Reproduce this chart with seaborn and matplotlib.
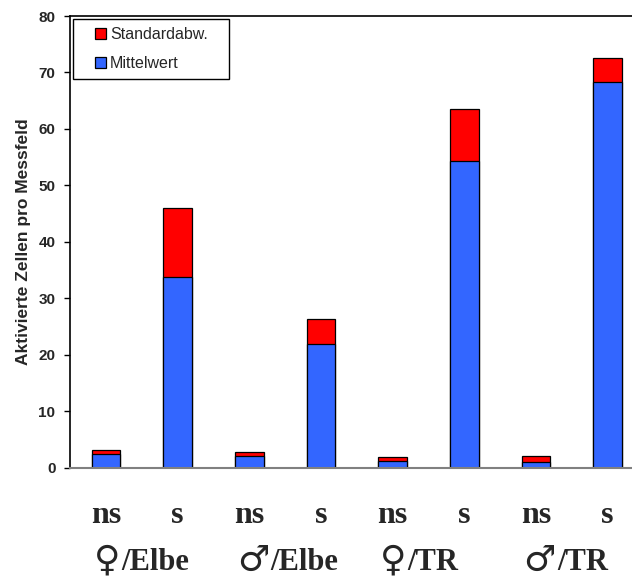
import numpy as np
import pandas as pd
import matplotlib
matplotlib.use("Agg")
import matplotlib.pyplot as plt
import matplotlib.transforms as mtransforms
from matplotlib.patches import Rectangle
from matplotlib.legend_handler import HandlerPatch
import seaborn as sns

# ---- data ----
categories = ["♀/Elbe ns", "♀/Elbe s", "♂/Elbe ns", "♂/Elbe s",
              "♀/TR ns", "♀/TR s", "♂/TR ns", "♂/TR s"]
sig_labels = ["ns", "s", "ns", "s", "ns", "s", "ns", "s"]
group_labels = ["♀/Elbe", "♂/Elbe", "♀/TR", "♂/TR"]
mittelwert = [2.5, 33.8, 2.1, 21.9, 1.2, 54.4, 0.95, 68.3]
standardabw = [0.7, 12.2, 0.7, 4.5, 0.7, 9.1, 1.05, 4.3]
y_ticks = [0, 10, 20, 30, 40, 50, 60, 70, 80]

df = pd.DataFrame({
    "cat": categories,
    "mean": mittelwert,
    "sd": standardabw,
})
df["total"] = df["mean"] + df["sd"]

sns.set_style("white")
plt.rcParams["font.family"] = ["Liberation Sans", "DejaVu Sans"]

W, H = 632, 577
fig = plt.figure(figsize=(W / 100, H / 100), dpi=100)
ax = fig.add_axes([70 / W, 1 - 467.7 / H, 1 - 70 / W, (467.7 - 16) / H])

sns.barplot(data=df, x="cat", y="total", order=categories, color="#FF0000",
            saturation=1, width=0.4, edgecolor="black", linewidth=0.9,
            label="Standardabw.", ax=ax)
sns.barplot(data=df, x="cat", y="mean", order=categories, color="#3366FF",
            saturation=1, width=0.4, edgecolor="black", linewidth=0.9,
            label="Mittelwert", ax=ax)

ax.set_xlim(-0.5, 7.34)
ax.set_ylim(0, 80)
ax.set_yticks(y_ticks)
ax.set_yticklabels([str(v) for v in y_ticks], fontweight="bold", fontsize=11)
ax.tick_params(axis="y", which="both", left=True, length=4.5, width=1,
               color="black", pad=6)
ax.tick_params(axis="x", length=0)
ax.set_xticks([])
ax.set_xlabel("")
ax.set_ylabel("Aktivierte Zellen pro Messfeld", fontweight="bold",
              fontsize=12.5, labelpad=5.5)

for side in ["left", "top"]:
    ax.spines[side].set_visible(True)
    ax.spines[side].set_color("black")
    ax.spines[side].set_linewidth(1.2)
ax.spines["right"].set_visible(False)
ax.spines["bottom"].set_color("#808080")
ax.spines["bottom"].set_linewidth(1.5)

# labels below axis
trans = mtransforms.blended_transform_factory(ax.transData, fig.transFigure)
serif = ["Liberation Serif", "DejaVu Serif"]
for i, lab in enumerate(sig_labels):
    ax.text(i, 1 - 523 / H, lab, transform=trans, ha="center", va="baseline",
            fontsize=23, fontweight="bold", family=serif, clip_on=False)

fig.canvas.draw()
renderer = fig.canvas.get_renderer()
base_y = 1 - 570.5 / H
for g, lab in enumerate(group_labels):
    symbol, site = lab[0], lab[1:]
    x0 = 2 * g - 0.2
    t_sym = ax.text(x0, base_y, symbol,
                    transform=mtransforms.offset_copy(trans, fig=fig, x=2, y=0, units="dots"),
                    ha="left", va="baseline", fontsize=26,
                    family=["DejaVu Sans"], clip_on=False)
    w = t_sym.get_window_extent(renderer).width
    ax.text(x0, base_y, site,
            transform=mtransforms.offset_copy(trans, fig=fig, x=2 + w + 1, y=0, units="dots"),
            ha="left", va="baseline", fontsize=22, fontweight="bold",
            family=serif, clip_on=False)


# legend with indented square handles
def square_patch(legend, orig_handle, xdescent, ydescent, width, height, fontsize):
    return Rectangle((-xdescent + width - height, -ydescent), height, height)


handles, labels = ax.get_legend_handles_labels()
handles = [h.patches[0] if hasattr(h, "patches") else h for h in handles]
leg = ax.legend(handles, labels, loc="upper left",
                bbox_to_anchor=(73.3 / W, 1 - 81.3 / H, 156 / W, 62 / H),
                bbox_transform=fig.transFigure, mode="expand",
                borderaxespad=0, fontsize=11.5, frameon=True, fancybox=False,
                shadow=False, handlelength=1.55, handleheight=0.7,
                handletextpad=0.25, labelspacing=0.85, borderpad=0.5,
                handler_map={Rectangle: HandlerPatch(patch_func=square_patch)})
frame = leg.get_frame()
frame.set_edgecolor("black")
frame.set_linewidth(1.0)
frame.set_facecolor("white")
frame.set_alpha(1)

fig.savefig("out.png", dpi=100)
